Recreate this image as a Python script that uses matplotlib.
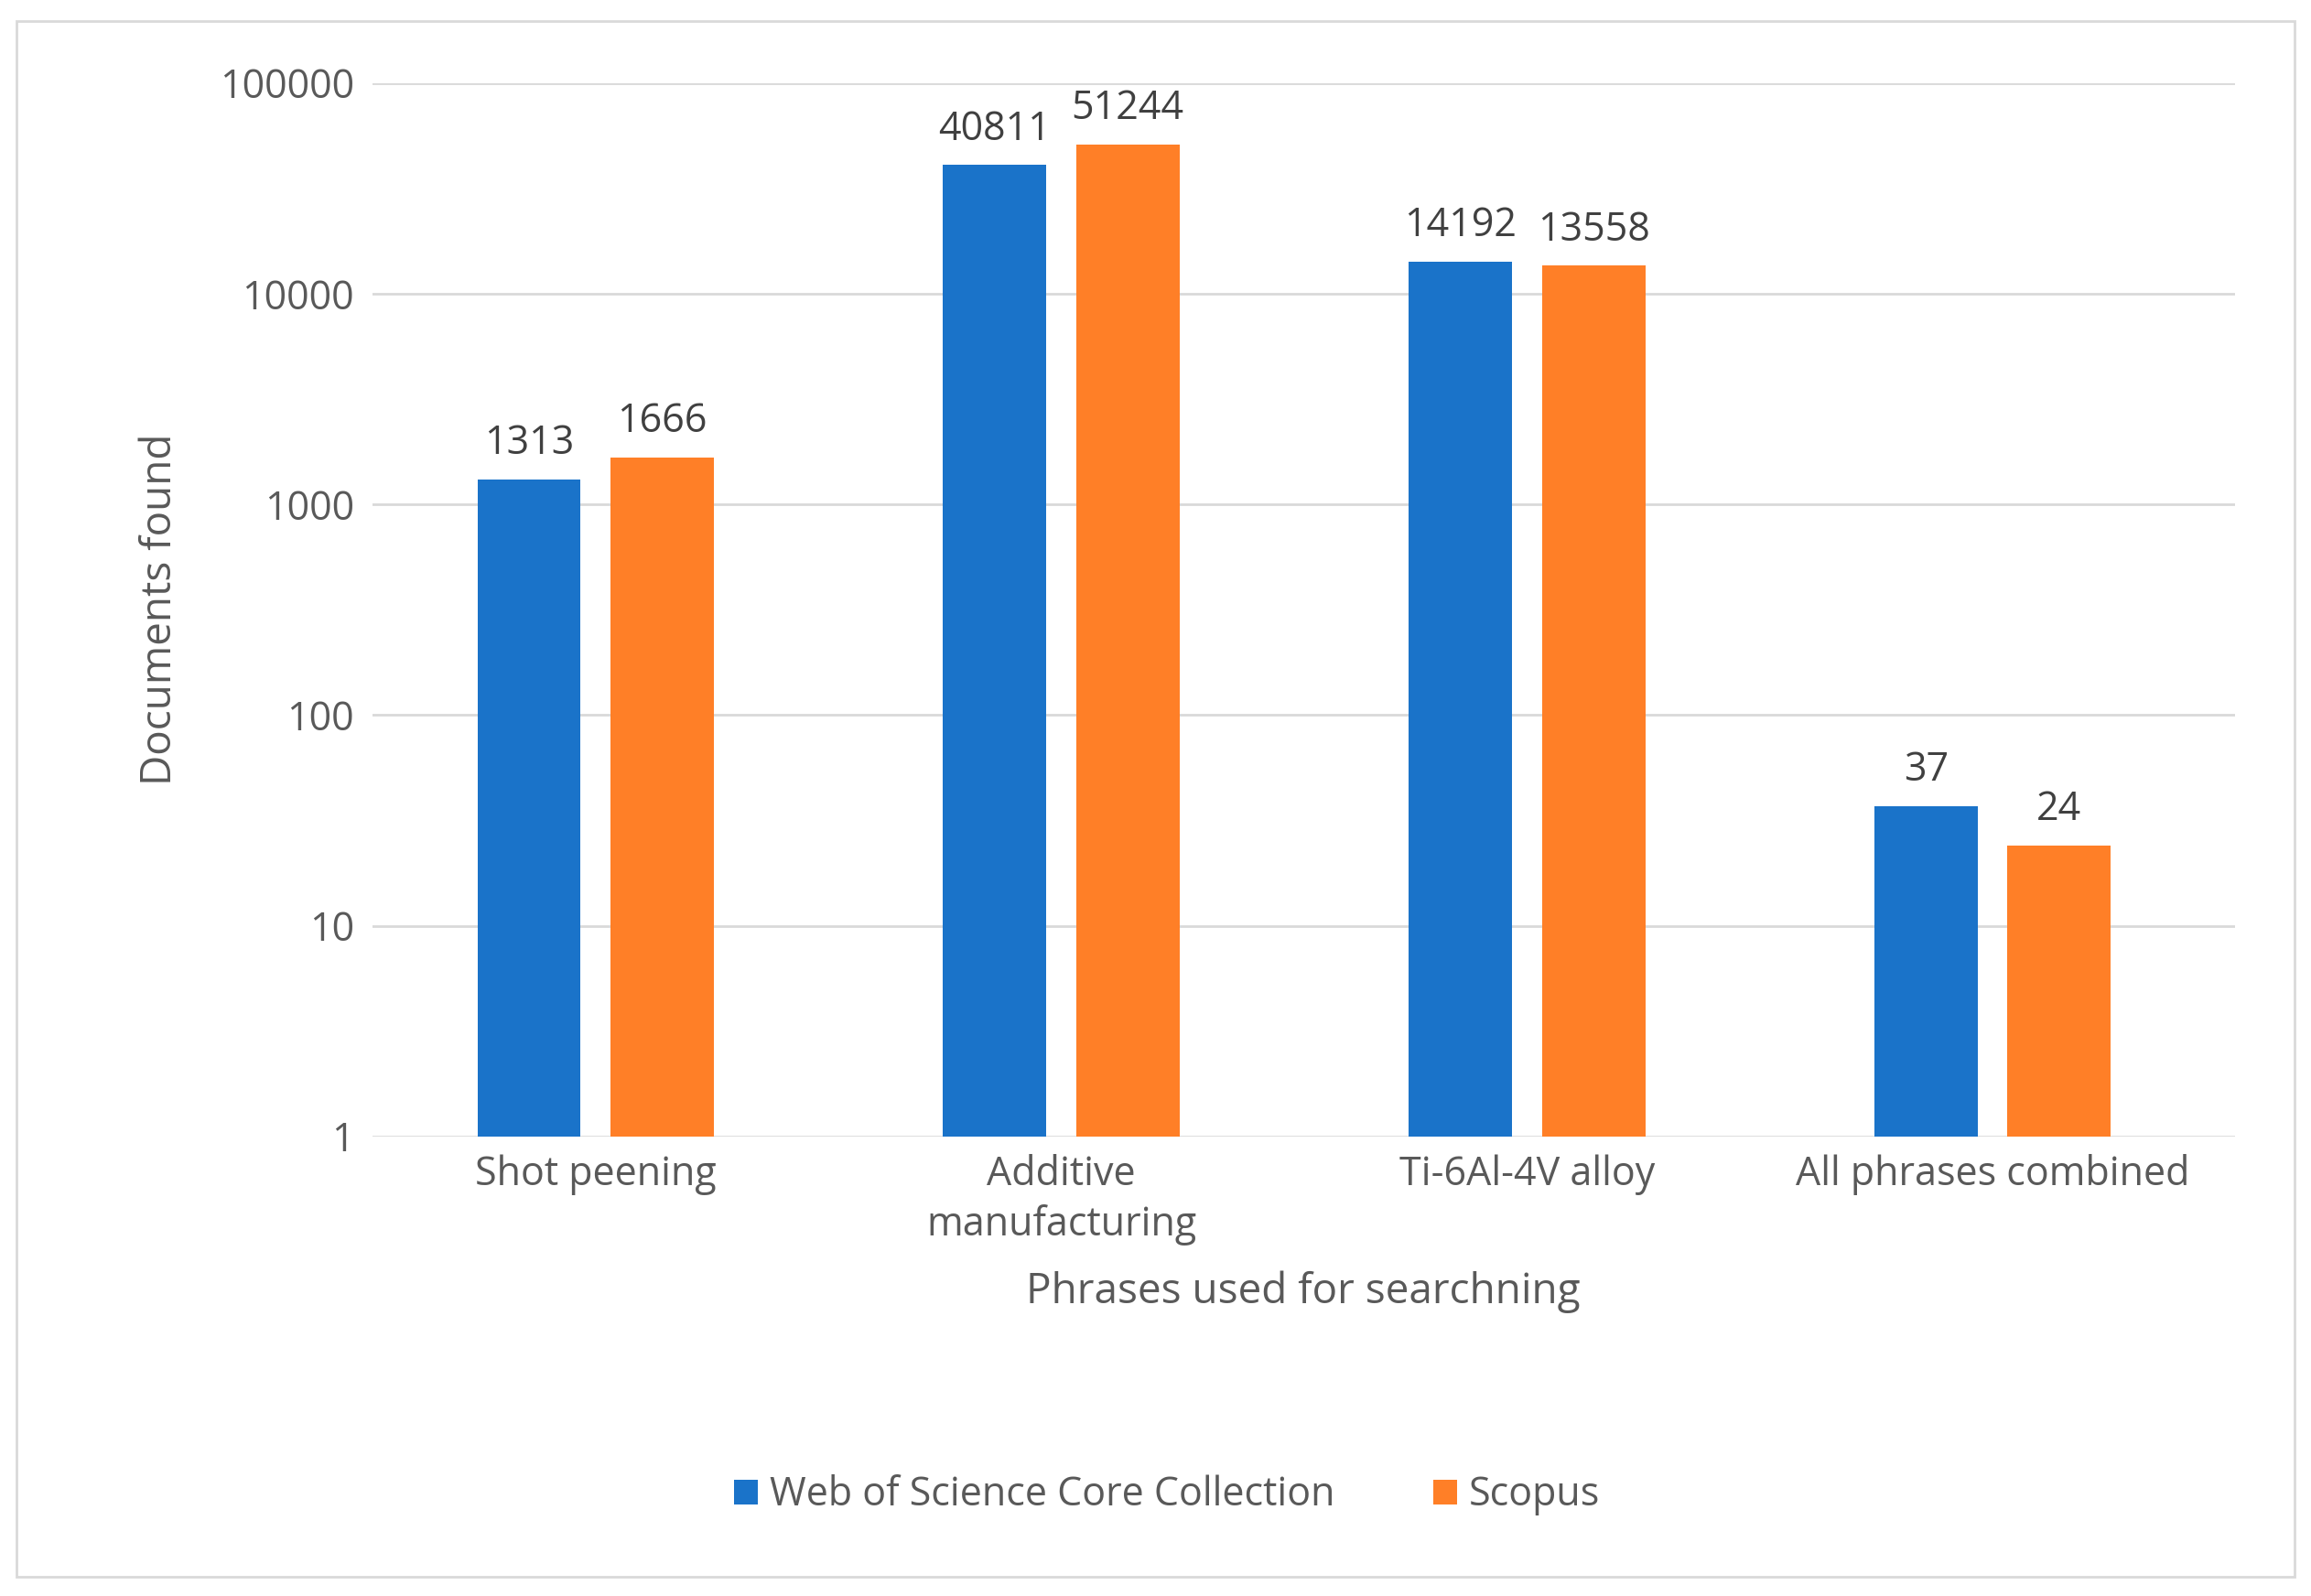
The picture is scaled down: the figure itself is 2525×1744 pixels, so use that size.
import matplotlib
matplotlib.use("Agg")
import matplotlib.pyplot as plt
import numpy as np
from matplotlib.patches import Rectangle

categories = ["Shot peening", "Additive\nmanufacturing", "Ti-6Al-4V alloy", "All phrases combined"]
wos = [1313, 40811, 14192, 37]
scopus = [1666, 51244, 13558, 24]
yticks = [1, 10, 100, 1000, 10000, 100000]

plt.rcParams["font.family"] = "Open Sans"
fig = plt.figure(figsize=(25.25, 17.44), dpi=100)
ax = fig.add_axes([0.161, 0.288, 0.806, 0.660])
fig.patches.append(Rectangle((0.007, 0.012), 0.986, 0.975, transform=fig.transFigure,
                             fill=False, edgecolor="#d9d9d9", linewidth=2))
x = np.arange(len(categories))
off, w = 0.143, 0.222
blue, orange = "#1a73c9", "#ff7f27"
b1 = ax.bar(x - off, wos, w, color=blue, label="Web of Science Core Collection", zorder=3)
b2 = ax.bar(x + off, scopus, w, color=orange, label="Scopus", zorder=3)
ax.set_yscale("log")
ax.set_ylim(1, 100000)
ax.set_xlim(-0.48, 3.52)
ax.set_yticks(yticks)
ax.set_yticklabels([str(v) for v in yticks])
ax.minorticks_off()
ax.set_xticks(x)
ax.set_xticklabels(categories)
ax.grid(axis="y", color="#d9d9d9", linewidth=2, zorder=0)
for s in ax.spines.values():
    s.set_visible(False)
ax.tick_params(length=0, labelsize=31, colors="#595959", pad=14)
for lbl in ax.get_xticklabels():
    lbl.set_linespacing(1.3)
for bars in (b1, b2):
    for r in bars:
        ax.annotate(str(int(r.get_height())), (r.get_x() + r.get_width() / 2, r.get_height()),
                    xytext=(0, 12), textcoords="offset points", ha="center", va="bottom",
                    fontsize=31, color="#404040")
ax.set_ylabel("Documents found", fontsize=33, color="#595959", labelpad=30)
ax.set_xlabel("Phrases used for searchning", fontsize=33, color="#595959", labelpad=20)
fig.legend(handles=[b1, b2], loc="center", bbox_to_anchor=(0.505, 0.063), ncol=2,
           frameon=False, fontsize=31, labelcolor="#595959", handlelength=0.6,
           handleheight=0.6, columnspacing=2.5, handletextpad=0.3)
fig.savefig("out.png", dpi=100, facecolor="white")
